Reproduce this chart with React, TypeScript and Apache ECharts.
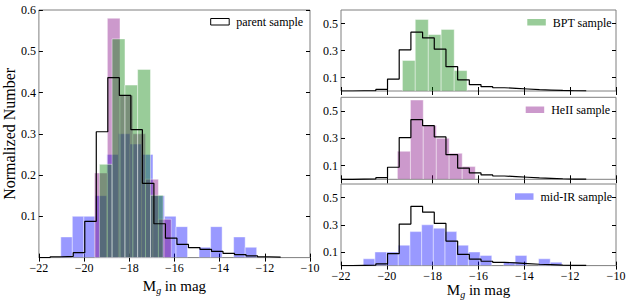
import React, { useEffect, useRef } from 'react';
import * as echarts from 'echarts';

// ---- data ----
const xTicks = { min: -22, max: -10, step: 2 };

const parentEdges = [-21.5, -20.99, -20.48, -19.97, -19.46, -18.95, -18.44, -17.93, -17.42, -16.91, -16.4, -15.89, -15.38, -14.87, -14.36, -13.85, -13.34, -12.83, -12.32, -11.81, -11.3];
const parentValues = [0.002, 0.003, 0.012, 0.088, 0.305, 0.436, 0.393, 0.31, 0.18, 0.082, 0.047, 0.032, 0.024, 0.02, 0.015, 0.01, 0.007, 0.004, 0.002, 0.001];

const bptEdges = [-19.32, -18.76, -18.19, -17.63, -17.06, -16.5];
const bptValues = [0.226, 0.53, 0.418, 0.456, 0.151];

const heiiEdges = [-19.54, -18.97, -18.41, -17.84, -17.28, -16.71, -16.14];
const heiiValues = [0.205, 0.58, 0.393, 0.3, 0.19, 0.093];

const midirEdges = [-21.03, -20.52, -20.01, -19.5, -18.99, -18.48, -17.97, -17.46, -16.95, -16.44, -15.93, -15.42, -14.91, -14.4, -13.89, -13.38, -12.87, -12.36];
const midirValues = [0.05, 0.1, 0.1, 0.15, 0.25, 0.3, 0.275, 0.25, 0.15, 0.1, 0.075, 0, 0.025, 0.075, 0, 0.05, 0.025];

const leftYTicks = [0.1, 0.2, 0.3, 0.4, 0.5, 0.6];
const rightYTicks = [0.1, 0.3, 0.5];

const labels = {
  parent: 'parent sample',
  bpt: 'BPT sample',
  heii: 'HeII sample',
  midir: 'mid-IR sample',
  yName: 'Normalized Number',
};

// ---- styling ----
const FONT = '"Liberation Serif", "Times New Roman", serif';
const FRAME = '#7f7f7f';
const C_BPT = 'rgba(0,128,0,0.4)';
const C_HEII = 'rgba(128,0,128,0.4)';
const C_MIDIR = 'rgba(0,0,255,0.4)';
const P_BPT = '#99cc99';
const P_HEII = '#cc99cc';
const P_MIDIR = '#9999ff';

function histData(edges: number[], values: number[]) {
  return values.map((v, i) => [edges[i], edges[i + 1], v]);
}

function stepData(edges: number[], values: number[]) {
  const pts: number[][] = [[xTicks.min, 0], [edges[0], 0]];
  values.forEach((v, i) => pts.push([edges[i], v]));
  pts.push([edges[edges.length - 1], 0]);
  return pts;
}

const fmtX = (v: number) => (v < 0 ? '\u2212' + Math.abs(v) : String(v));

export default function App() {
  const ref = useRef<HTMLDivElement>(null);

  useEffect(() => {
    if (!ref.current) return;
    const chart = echarts.init(ref.current, undefined, { renderer: 'svg' });

    const grids = [
      { left: 35, top: 10, width: 275, height: 256.7 },
      { left: 341, top: 10, width: 275, height: 81 },
      { left: 341, top: 97.3, width: 275, height: 82 },
      { left: 341, top: 184, width: 275, height: 82 },
    ].map((g) => ({ ...g, show: true, borderColor: FRAME, borderWidth: 1, backgroundColor: 'transparent' }));

    const xAxes: any[] = [];
    const yAxes: any[] = [];
    const xName = {
      name: '{m|M}{s|g}{m| in mag}',
      nameLocation: 'middle',
      nameGap: 14,
      nameTextStyle: {
        rich: {
          m: { fontFamily: FONT, fontSize: 15, color: '#000', lineHeight: 18, verticalAlign: 'middle' },
          s: { fontFamily: FONT, fontSize: 10, fontStyle: 'italic', color: '#000', lineHeight: 18, verticalAlign: 'bottom', padding: [0, 0, 0, 0] },
        },
      },
    };
    grids.forEach((_, i) => {
      const showXLabel = i === 0 || i === 3;
      const baseX = {
        gridIndex: i,
        type: 'value',
        min: xTicks.min,
        max: xTicks.max,
        interval: xTicks.step,
        axisLine: { show: false },
        axisTick: { show: true, inside: true, length: 4, lineStyle: { color: '#000', width: 1 } },
        splitLine: { show: false },
      };
      xAxes.push({
        ...baseX,
        position: 'bottom',
        axisLabel: { show: showXLabel, formatter: fmtX, margin: 4, fontFamily: FONT, fontSize: 12, color: '#000' },
        ...(showXLabel ? xName : {}),
      });
      xAxes.push({ ...baseX, position: 'top', axisLabel: { show: false } });

      const ticks = i === 0 ? leftYTicks : rightYTicks;
      const baseY = {
        gridIndex: i,
        type: 'value',
        min: 0,
        max: 0.6,
        interval: 0.1,
        axisLine: { show: false },
        splitLine: { show: false },
      };
      yAxes.push({
        ...baseY,
        position: 'left',
        axisTick: { show: true, inside: true, length: 4, lineStyle: { color: '#000' }, customValues: ticks },
        axisLabel: { show: true, customValues: ticks, formatter: (v: number) => v.toFixed(1), margin: 3, fontFamily: FONT, fontSize: 12, color: '#000' },
        ...(i === 0
          ? { name: labels.yName, nameLocation: 'middle', nameGap: 20, nameRotate: 90, nameTextStyle: { fontFamily: FONT, fontSize: 16, color: '#000' } }
          : {}),
      });
      yAxes.push({
        ...baseY,
        position: 'right',
        axisTick: { show: true, inside: true, length: 4, lineStyle: { color: '#000' }, customValues: ticks },
        axisLabel: { show: false },
      });
    });

    const histSeries = (name: string, grid: number, edges: number[], values: number[], fill: string) => ({
      type: 'custom',
      name,
      xAxisIndex: grid * 2,
      yAxisIndex: grid * 2,
      clip: true,
      encode: { x: [0, 1], y: 2 },
      data: histData(edges, values),
      renderItem: (params: any, api: any) => {
        const v = api.value(2);
        if (!v) return null;
        const p0 = api.coord([api.value(0), v]);
        const p1 = api.coord([api.value(1), 0]);
        return {
          type: 'rect',
          shape: { x: p0[0], y: p0[1], width: p1[0] - p0[0], height: p1[1] - p0[1] },
          style: { fill, stroke: 'rgba(255,255,255,0.55)', lineWidth: 0.8 },
        };
      },
    });

    const stepSeries = (grid: number) => ({
      type: 'line',
      name: labels.parent,
      xAxisIndex: grid * 2,
      yAxisIndex: grid * 2,
      step: 'end',
      symbol: 'none',
      clip: true,
      data: stepData(parentEdges, parentValues),
      lineStyle: { color: '#000', width: 1.2 },
    });

    const series: any[] = [
      histSeries(labels.midir, 0, midirEdges, midirValues, C_MIDIR),
      histSeries(labels.heii, 0, heiiEdges, heiiValues, C_HEII),
      histSeries(labels.bpt, 0, bptEdges, bptValues, C_BPT),
      stepSeries(0),
      stepSeries(1),
      histSeries(labels.bpt, 1, bptEdges, bptValues, C_BPT),
      stepSeries(2),
      histSeries(labels.heii, 2, heiiEdges, heiiValues, C_HEII),
      stepSeries(3),
      histSeries(labels.midir, 3, midirEdges, midirValues, C_MIDIR),
    ];

    const legendItem = (rx: number, ry: number, text: string, fill: string, stroke?: string) => [
      {
        type: 'rect',
        shape: { x: rx, y: ry, width: 18.5, height: 6.5 },
        style: { fill, stroke: stroke || null, lineWidth: stroke ? 1 : 0 },
        z: 100,
      },
      {
        type: 'text',
        x: rx + 25.5,
        y: ry + 3.5,
        style: { text, fontFamily: FONT, fontSize: 12, fill: '#000', verticalAlign: 'middle', align: 'left' },
        z: 100,
      },
    ];

    chart.setOption({
      animation: false,
      backgroundColor: '#fff',
      grid: grids,
      xAxis: xAxes,
      yAxis: yAxes,
      series,
      graphic: [
        ...legendItem(210.7, 18.5, labels.parent, '#fff', '#000'),
        ...legendItem(527.3, 19, labels.bpt, P_BPT),
        ...legendItem(525.7, 106.5, labels.heii, P_HEII),
        ...legendItem(515, 193.3, labels.midir, P_MIDIR),
      ],
    });

    return () => chart.dispose();
  }, []);

  return <div ref={ref} style={{ position: 'fixed', left: 0, top: 0, width: 630, height: 300 }} />;
}
